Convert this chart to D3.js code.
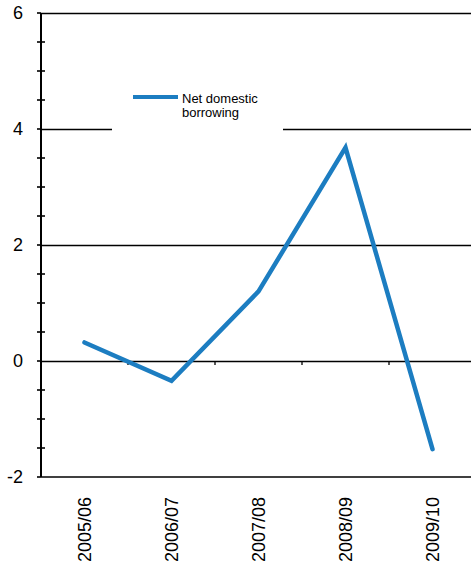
<!DOCTYPE html>
<html>
<head>
<meta charset="utf-8">
<script src="https://cdn.jsdelivr.net/npm/d3@7"></script>
<style>
  html, body { margin: 0; padding: 0; background: #fff; }
  svg { display: block; }
  text { font-family: Arial, "Liberation Sans", sans-serif; fill: #000; }
</style>
</head>
<body>
<script>
// Fiscal years and net domestic borrowing
const years = ["2005/06", "2006/07", "2007/08", "2008/09", "2009/10"];
const borrowing = [0.32, -0.34, 1.2, 3.68, -1.52];
const majorTicks = [-2, 0, 2, 4, 6];
const minorTicks = [-1.5, -1, -0.5, 0.5, 1, 1.5, 2.5, 3, 3.5, 4.5, 5, 5.5];
const seriesName = ["Net domestic", "borrowing"];

const W = 471, H = 569;
const plotLeft = 41, plotRight = 476, plotTop = 13, plotBottom = 477;
const blue = "#1c7dc1";

const svg = d3.select("body").append("svg")
  .attr("width", W).attr("height", H);

const y = d3.scaleLinear().domain([-2, 6]).range([plotBottom, plotTop]);
const x = d3.scaleBand().domain(years).range([plotLeft, plotRight]).padding(0);

// horizontal gridlines at the major ticks (above the baseline)
svg.append("g").selectAll("line")
  .data(majorTicks.filter(d => d > -2))
  .join("line")
  .attr("x1", plotLeft).attr("x2", W)
  .attr("y1", d => Math.round(y(d)) + 0.5).attr("y2", d => Math.round(y(d)) + 0.5)
  .attr("stroke", "#000").attr("stroke-width", 1.3);

// bottom frame line
svg.append("line")
  .attr("x1", plotLeft).attr("x2", W)
  .attr("y1", y(-2)).attr("y2", y(-2))
  .attr("stroke", "#000").attr("stroke-width", 1.6);

// category boundary ticks hanging from the zero line
svg.append("g").selectAll("line")
  .data(years.slice(1))
  .join("line")
  .attr("x1", d => x(d)).attr("x2", d => x(d))
  .attr("y1", y(0)).attr("y2", y(0) + 4)
  .attr("stroke", "#000").attr("stroke-width", 1.3);

// y axis: major ticks with labels, minor ticks crossing the axis line
const yAxis = svg.append("g").attr("transform", `translate(${plotLeft},0)`);
yAxis.append("line")
  .attr("x1", 0).attr("x2", 0).attr("y1", y(6)).attr("y2", y(-2))
  .attr("stroke", "#000").attr("stroke-width", 2);
yAxis.selectAll(".major").data(majorTicks).join("line")
  .attr("class", "major")
  .attr("x1", -4).attr("x2", 0)
  .attr("y1", d => y(d)).attr("y2", d => y(d))
  .attr("stroke", "#000").attr("stroke-width", 1.6);
yAxis.selectAll(".minor").data(minorTicks).join("line")
  .attr("class", "minor")
  .attr("x1", -4).attr("x2", 4)
  .attr("y1", d => y(d)).attr("y2", d => y(d))
  .attr("stroke", "#000").attr("stroke-width", 1.6);
yAxis.selectAll("text").data(majorTicks).join("text")
  .attr("x", -18).attr("y", d => y(d))
  .attr("dy", "0.35em")
  .attr("text-anchor", "end")
  .style("font-size", "18px")
  .text(d => d);

// rotated category labels
svg.append("g").selectAll("text")
  .data(years).join("text")
  .attr("transform", d => `translate(${x(d) + x.bandwidth() / 2},497) rotate(-90)`)
  .attr("dy", "0.35em")
  .attr("text-anchor", "end")
  .style("font-size", "18px")
  .text(d => d);

// legend block (white panel interrupts the gridline behind it)
const legend = svg.append("g");
legend.append("rect")
  .attr("x", 112).attr("y", 80).attr("width", 171).attr("height", 52)
  .attr("fill", "#fff");
legend.append("line")
  .attr("x1", 133).attr("x2", 178).attr("y1", 97).attr("y2", 97)
  .attr("stroke", blue).attr("stroke-width", 4);
legend.append("text")
  .attr("x", 182).attr("y", 103)
  .style("font-size", "13px")
  .selectAll("tspan").data(seriesName).join("tspan")
  .attr("x", 182).attr("dy", (d, i) => i ? 14 : 0)
  .text(d => d);

// the series line
const line = d3.line()
  .x((d, i) => x(years[i]) + x.bandwidth() / 2)
  .y(d => y(d));
svg.append("path")
  .datum(borrowing)
  .attr("d", line)
  .attr("fill", "none")
  .attr("stroke", blue)
  .attr("stroke-width", 4.5)
  .attr("stroke-linejoin", "miter")
  .attr("stroke-linecap", "round");
</script>
</body>
</html>
